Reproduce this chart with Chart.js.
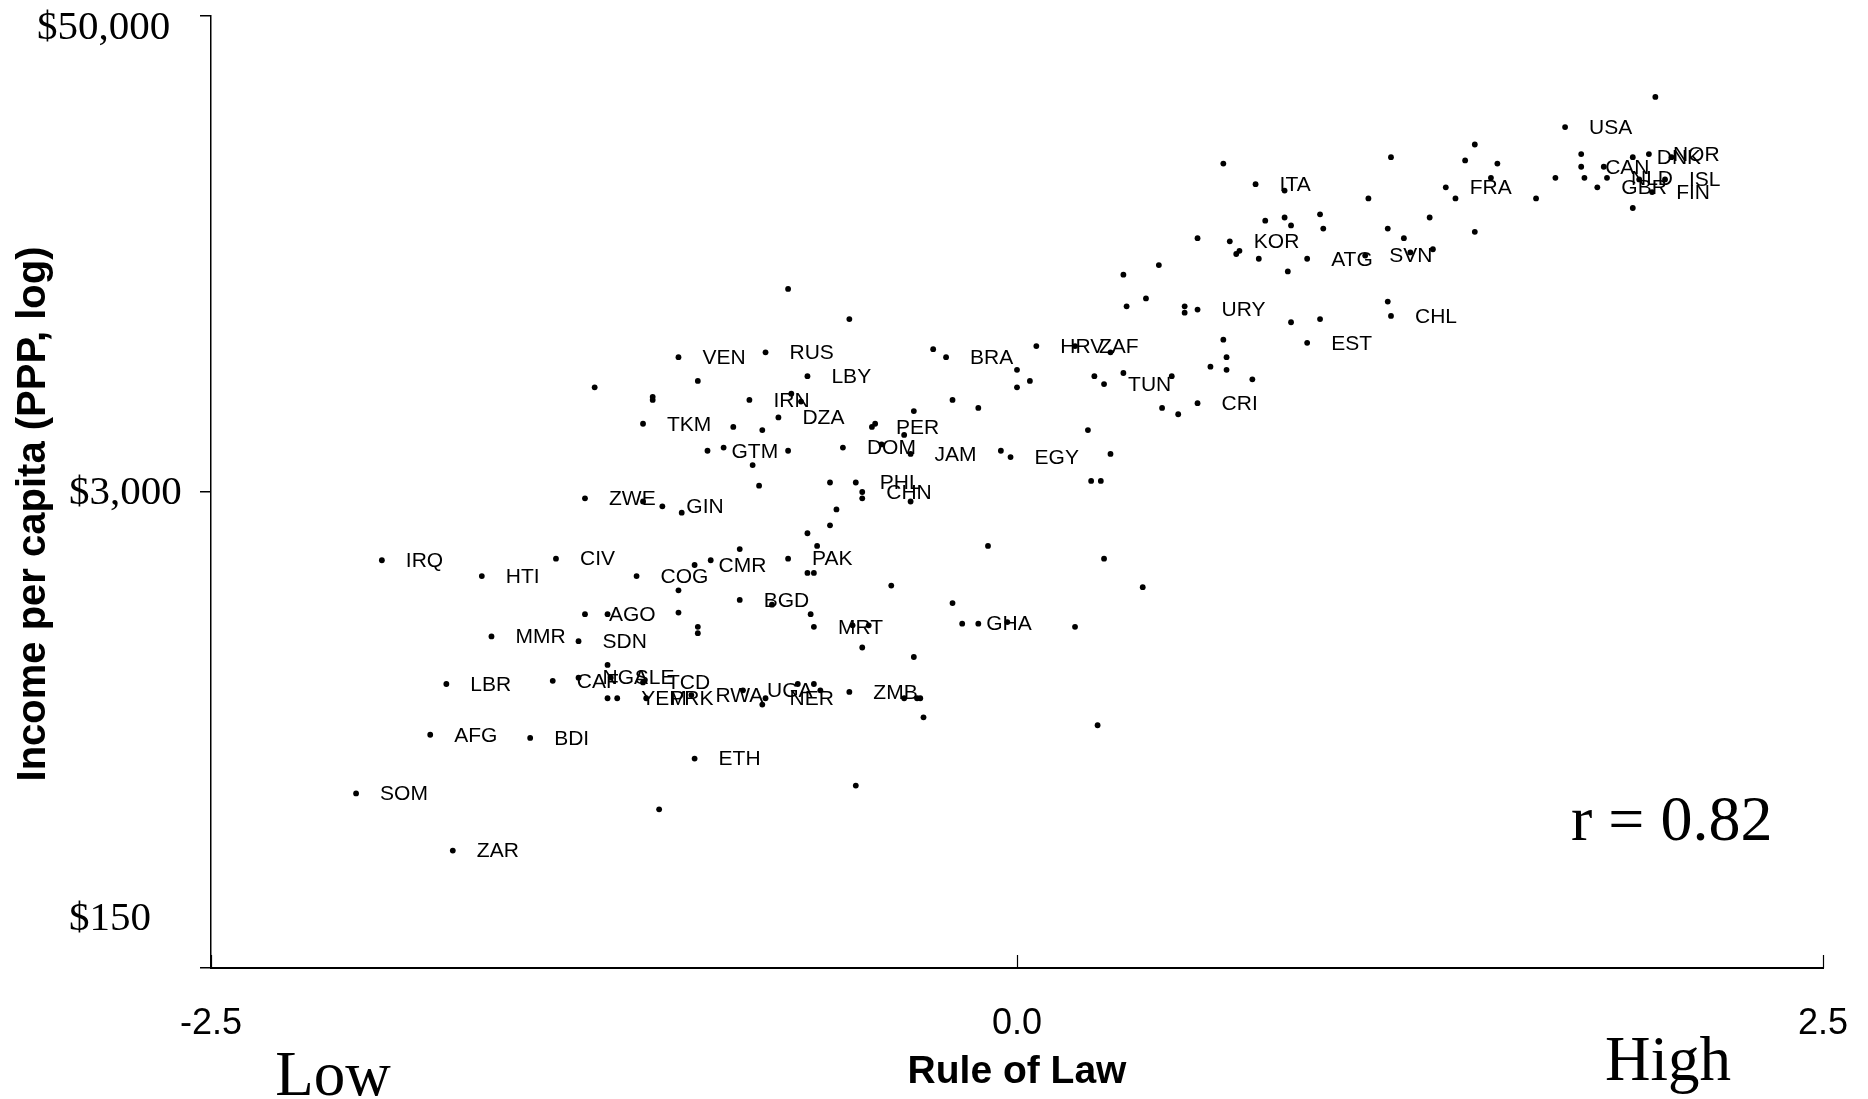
<!DOCTYPE html>
<html><head><meta charset="utf-8">
<script src="https://cdn.jsdelivr.net/npm/chart.js@4"></script>
<style>html,body{margin:0;padding:0;background:#fff;}canvas{display:block;}</style>
</head><body>
<canvas id="c" width="1868" height="1099" style="width:1868px;height:1099px"></canvas>
<script>
// ---- data (Rule of Law index, natural log of income per capita PPP) ----
const labeledCodes = ['USA','CAN','GBR','NLD','DNK','NOR','ISL','FIN','FRA','SVN','CHL','ITA','KOR','ATG','EST','URY','CRI','TUN','HRV','ZAF','BRA','RUS','VEN','LBY','IRN','DZA','TKM','GTM','PER','DOM','JAM','EGY','PHL','CHN','PAK','ZWE','GIN','IRQ','HTI','CIV','COG','CMR','BGD','AGO','MRT','GHA','MMR','SDN','LBR','CAF','NGA','SLE','TCD','YEM','PRK','RWA','UGA','NER','ZMB','AFG','BDI','ETH','SOM','ZAR'];
const labeledRuleOfLaw = [1.70,1.75,1.80,1.83,1.91,1.96,2.01,1.97,1.33,1.08,1.16,0.74,0.66,0.90,0.90,0.56,0.56,0.27,0.06,0.18,-0.22,-0.78,-1.05,-0.65,-0.83,-0.74,-1.16,-0.96,-0.45,-0.54,-0.33,-0.02,-0.50,-0.48,-0.71,-1.34,-1.10,-1.97,-1.66,-1.43,-1.18,-1.00,-0.86,-1.34,-0.63,-0.17,-1.63,-1.36,-1.77,-1.44,-1.36,-1.26,-1.16,-1.24,-1.15,-1.01,-0.85,-0.78,-0.52,-1.82,-1.51,-1.00,-2.05,-1.75];
const labeledLogIncome = [10.30,10.05,9.92,9.98,10.11,10.13,9.97,9.89,9.92,9.49,9.11,9.94,9.58,9.47,8.94,9.15,8.56,8.68,8.92,8.92,8.85,8.88,8.85,8.73,8.58,8.47,8.43,8.26,8.41,8.28,8.24,8.22,8.06,8.00,7.58,7.96,7.91,7.57,7.47,7.58,7.47,7.54,7.32,7.23,7.15,7.17,7.09,7.06,6.79,6.81,6.83,6.83,6.80,6.70,6.70,6.72,6.75,6.70,6.74,6.47,6.45,6.32,6.10,5.74];
const otherRuleOfLaw = [1.98,1.75,1.76,1.82,1.91,1.93,2.03,1.67,1.61,1.36,1.39,1.42,1.49,1.47,1.42,1.16,1.09,1.15,1.20,1.28,1.29,1.22,1.15,0.83,0.77,0.83,0.85,0.94,0.95,0.68,0.69,0.75,0.84,0.85,0.94,0.64,0.56,0.44,0.33,0.40,0.34,0.52,0.52,0.64,0.65,0.65,0.73,0.60,0.48,0.45,0.50,0.24,0.33,0.29,0.00,0.00,0.04,-0.26,-0.20,-0.12,-0.32,-0.52,-0.71,-0.70,-0.67,-0.99,-1.31,-1.13,-1.13,-0.88,-0.79,-0.91,-0.82,-0.71,-0.80,-0.44,-0.35,-0.42,-0.05,0.22,0.29,0.23,0.26,-0.58,-0.48,-0.33,-0.56,-0.58,-0.65,-0.62,-0.09,-0.65,-0.63,-0.39,0.27,0.39,-1.16,-1.04,-1.05,-0.95,-0.86,-0.76,-1.27,-1.05,-0.99,-0.99,-0.64,-0.51,-0.46,-0.20,-0.12,-0.03,0.18,-0.48,-0.32,-1.27,-1.27,-0.79,-0.68,-0.63,-0.61,-0.35,-0.31,-0.30,-0.29,0.25,-1.11,-0.50];
const otherLogIncome = [10.49,10.13,9.98,10.05,9.79,9.97,10.11,9.98,9.85,9.85,10.09,10.19,10.07,9.98,9.64,10.11,9.85,9.66,9.60,9.73,9.53,9.51,9.20,9.90,9.71,9.73,9.68,9.75,9.66,9.50,9.52,9.47,9.39,9.07,9.09,10.07,9.60,9.43,9.37,9.22,9.17,9.17,9.13,8.96,8.85,8.77,8.71,8.79,8.73,8.53,8.49,8.73,8.75,8.88,8.77,8.66,8.70,8.90,8.58,8.53,8.51,9.09,9.28,8.62,8.57,8.70,8.66,8.60,8.58,8.41,8.39,8.28,8.17,8.26,8.04,8.43,8.36,8.30,8.26,8.39,8.24,8.07,8.07,8.06,7.96,7.94,7.89,7.79,7.74,7.66,7.66,7.49,7.49,7.41,7.58,7.40,7.94,7.87,7.38,7.57,7.64,7.29,7.23,7.24,7.15,7.11,7.23,7.16,7.16,7.30,7.17,7.18,7.15,7.02,6.96,6.91,6.70,6.66,6.79,6.79,6.75,6.70,6.70,6.70,6.58,6.53,6.00,6.15];
const xTickValues = [-2.5, 0, 2.5];
const xTickLabels = ['-2.5', '0.0', '2.5'];
const yTickValues = [5, 8, 11];
const yTickLabels = ['$150', '$3,000', '$50,000'];
const xTitle = 'Rule of Law';
const yTitle = 'Income per capita (PPP, log)';
const rText = 'r = 0.82';
const lowText = 'Low', highText = 'High';

// ---- styling / layout constants ----
const SERIF = '"Liberation Serif", "Times New Roman", serif';
const SANS = '"Liberation Sans", Arial, sans-serif';
const yLabelPlacement = { 11: {x: 37, dy: 12}, 8: {x: 69, dy: 1}, 5: {x: 69, dy: -49} };

const pairs = (xs, ys) => xs.map((x, i) => ({x: x, y: ys[i]}));

const decor = {
  id: 'decor',
  afterDatasetsDraw(chart) {
    const ctx = chart.ctx;
    const meta = chart.getDatasetMeta(0);
    ctx.save();
    ctx.font = '21px ' + SANS;
    ctx.fillStyle = '#000';
    ctx.textAlign = 'left';
    ctx.textBaseline = 'middle';
    meta.data.forEach((pt, i) => ctx.fillText(labeledCodes[i], pt.x + 24, pt.y + 1));
    ctx.restore();
  },
  afterDraw(chart) {
    const ctx = chart.ctx, xs = chart.scales.x, ys = chart.scales.y;
    ctx.save();
    // inward x ticks
    ctx.strokeStyle = '#000';
    ctx.lineWidth = 1.2;
    xTickValues.forEach(v => {
      const px = Math.round(xs.getPixelForValue(v)) + 0.5;
      ctx.beginPath(); ctx.moveTo(px, ys.bottom); ctx.lineTo(px, ys.bottom - 13); ctx.stroke();
    });
    // y tick labels
    ctx.fillStyle = '#000';
    ctx.font = '41px ' + SERIF;
    ctx.textAlign = 'left';
    ctx.textBaseline = 'middle';
    yTickValues.forEach((v, i) => {
      const p = yLabelPlacement[v];
      ctx.fillText(yTickLabels[i], p.x, ys.getPixelForValue(v) + p.dy);
    });
    // y axis title (rotated)
    ctx.save();
    ctx.translate(34, 514);
    ctx.rotate(-Math.PI / 2);
    ctx.textAlign = 'center';
    ctx.font = 'bold 40px ' + SANS;
    ctx.fillText(yTitle, 0, 0);
    ctx.restore();
    // r annotation
    ctx.textAlign = 'left';
    ctx.textBaseline = 'alphabetic';
    ctx.font = '64px ' + SERIF;
    ctx.fillText(rText, 1571, 840);
    // Low / High
    ctx.textAlign = 'center';
    ctx.font = '63px ' + SERIF;
    ctx.fillText(lowText, 333, 1095);
    ctx.fillText(highText, 1668, 1080);
    ctx.restore();
  }
};

new Chart(document.getElementById('c'), {
  type: 'scatter',
  data: {
    datasets: [
      { data: pairs(labeledRuleOfLaw, labeledLogIncome), pointRadius: 2.9, pointBackgroundColor: '#000', pointBorderWidth: 0, pointHoverRadius: 2.9 },
      { data: pairs(otherRuleOfLaw, otherLogIncome), pointRadius: 2.9, pointBackgroundColor: '#000', pointBorderWidth: 0, pointHoverRadius: 2.9 }
    ]
  },
  options: {
    responsive: false,
    animation: false,
    devicePixelRatio: 1,
    layout: { padding: { top: 16, right: 45, left: 0, bottom: 0 } },
    plugins: { legend: { display: false }, tooltip: { enabled: false } },
    events: [],
    scales: {
      x: {
        type: 'linear', min: -2.5, max: 2.5,
        afterBuildTicks: s => { s.ticks = xTickValues.map(v => ({ value: v })); },
        afterFit: s => { s.height = 131; },
        ticks: {
          autoSkip: false, maxRotation: 0, padding: 4, color: '#000',
          font: { family: SANS, size: 36 },
          callback: (v) => xTickLabels[xTickValues.indexOf(v)]
        },
        grid: { display: true, drawOnChartArea: false, drawTicks: true, tickLength: 30, color: 'rgba(0,0,0,0)' },
        border: { display: true, color: '#000', width: 2 },
        title: { display: true, text: xTitle, color: '#000', font: { family: SANS, size: 39, weight: 'bold' }, padding: { top: 0, bottom: 3 } }
      },
      y: {
        type: 'linear', min: 5, max: 11,
        afterBuildTicks: s => { s.ticks = yTickValues.map(v => ({ value: v })); },
        afterFit: s => { s.width = 211; },
        ticks: { display: false },
        grid: { display: true, drawOnChartArea: false, drawTicks: true, tickLength: 11, color: '#000', lineWidth: 1.5 },
        border: { display: true, color: '#000', width: 1.5 },
        title: { display: false }
      }
    }
  },
  plugins: [decor]
});
</script>
</body></html>
